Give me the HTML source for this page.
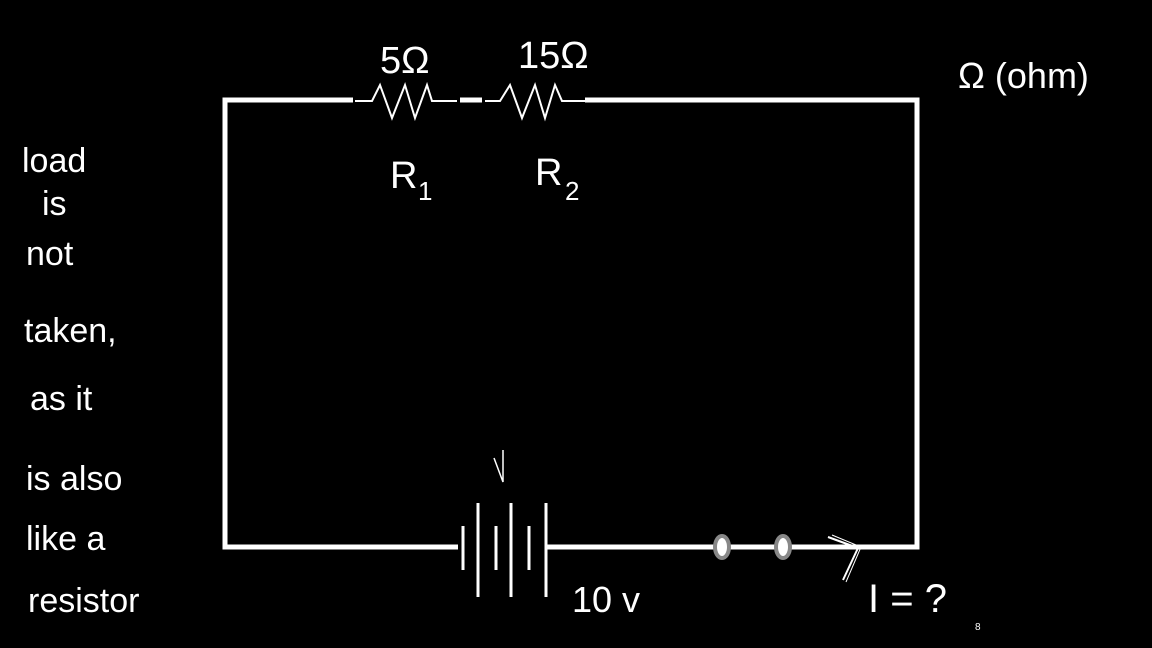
<!DOCTYPE html>
<html><head><meta charset="utf-8"><style>
html,body{margin:0;padding:0;background:#000;}
svg{display:block}
text{font-family:"Liberation Sans",sans-serif;fill:#fff;}
</style></head><body>
<svg width="1152" height="648" viewBox="0 0 1152 648" xmlns="http://www.w3.org/2000/svg">
<rect width="1152" height="648" fill="#000"/>
<g stroke="#fff" fill="none">
  <!-- thick wires -->
  <path d="M353 100 H225 V547 H440" stroke-width="5"/>
  <path d="M460 100 H482" stroke-width="5"/>
  <path d="M585 100 H917 V547 H546" stroke-width="5"/>
  <path d="M440 547 H458" stroke-width="5"/>
  <!-- resistors -->
  <polyline points="355,101 372,101 380,85 392,118 405,85 415,118 427,85 432,101 457,101" stroke-width="2"/>
  <polyline points="485,101 500,101 510,85 522,118 535,85 545,118 555,85 562,101 585,101" stroke-width="2"/>
  <!-- battery plates -->
  <g stroke-width="3">
    <line x1="463" y1="526" x2="463" y2="570"/>
    <line x1="478" y1="503" x2="478" y2="597"/>
    <line x1="496" y1="526" x2="496" y2="570"/>
    <line x1="511" y1="503" x2="511" y2="597"/>
    <line x1="529" y1="526" x2="529" y2="570"/>
    <line x1="546" y1="503" x2="546" y2="597"/>
  </g>
  <!-- arrow -->
  <path d="M828 537 L858 548 L843 580" stroke-width="2"/>
  <path d="M832 535 L861 547 L846 582" stroke-width="1"/>
  <!-- V mark -->
  <path d="M494 458 L503 482 L503 450" stroke-width="1.5"/>
</g>
<!-- terminals -->
<ellipse cx="722" cy="547" rx="7" ry="11" fill="#fff" stroke="#888" stroke-width="4"/>
<ellipse cx="783" cy="547" rx="7" ry="11" fill="#fff" stroke="#888" stroke-width="4"/>
<!-- labels -->
<text x="380" y="73" font-size="38">5Ω</text>
<text x="518" y="68" font-size="38">15Ω</text>
<text x="390" y="188" font-size="38">R</text><text x="418" y="200" font-size="26">1</text>
<text x="535" y="185" font-size="38">R</text><text x="565" y="200" font-size="26">2</text>
<text x="958" y="88" font-size="36">Ω (ohm)</text>
<text x="572" y="612" font-size="36">10 v</text>
<text x="868" y="612" font-size="40">I = ?</text>
<text x="975" y="630" font-size="10">8</text>
<g font-size="34">
<text x="22" y="172">load</text>
<text x="42" y="215">is</text>
<text x="26" y="265">not</text>
<text x="24" y="342">taken,</text>
<text x="30" y="410">as it</text>
<text x="26" y="490">is also</text>
<text x="26" y="550">like a</text>
<text x="28" y="612">resistor</text>
</g>
</svg>
</body></html>
